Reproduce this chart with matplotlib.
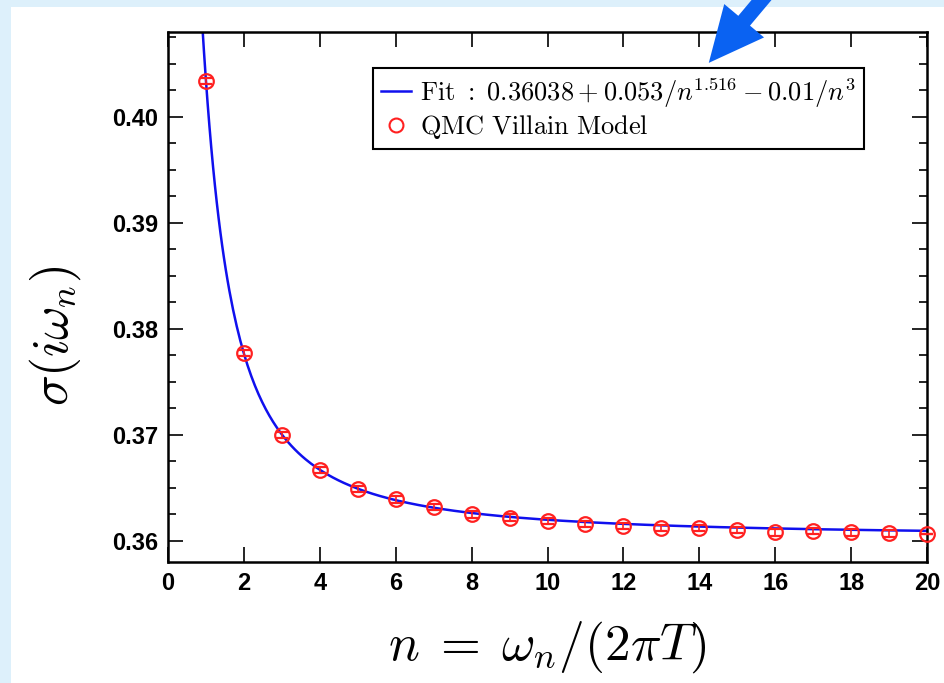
import matplotlib
matplotlib.use('Agg')
import matplotlib.pyplot as plt
from matplotlib.patches import Rectangle
from matplotlib.lines import Line2D
from matplotlib.ticker import MultipleLocator
import numpy as np

plt.rcParams['mathtext.fontset'] = 'cm'
plt.rcParams['font.family'] = ['Liberation Sans', 'DejaVu Sans']

# QMC Villain model data
n_vals = [1, 2, 3, 4, 5, 6, 7, 8, 9, 10, 11, 12, 13, 14, 15, 16, 17, 18, 19, 20]
sigma_vals = [0.4034, 0.3777, 0.3700, 0.3667, 0.3649, 0.3639, 0.3632, 0.3625,
              0.3622, 0.3619, 0.3616, 0.3614, 0.3612, 0.3612, 0.3610, 0.3608,
              0.3609, 0.3608, 0.3607, 0.3606]
sigma_err = [0.0003] * 19 + [0.0]

# fit parameters as printed in the legend: a + b/n^p - c/n^3
fit_a = 0.36038
fit_b = 0.053
fit_p = 1.516
fit_c = 0.01
n_fit = np.linspace(0.9, 20, 400)
sigma_fit = fit_a + fit_b / n_fit**fit_p - fit_c / n_fit**3

fit_label = r'$\mathrm{Fit\ :\ }0.36038 + 0.053/n^{1.516} - 0.01/n^3$'
qmc_label = r'$\mathrm{QMC\ Villain\ Model}$'

fig = plt.figure(figsize=(9.45, 6.83), dpi=100)
fig.patch.set_facecolor('#ddf0fb')
fig.patches.append(Rectangle((11 / 945, 0), 1, 676 / 683, transform=fig.transFigure,
                             facecolor='white', edgecolor='none', zorder=-10))

ax = fig.add_axes([0.1778, 0.1771, 0.8032, 0.776])
ax.plot(n_fit, sigma_fit, color='#1010ee', lw=1.8, zorder=2)
ax.errorbar(n_vals, sigma_vals, yerr=sigma_err, fmt='o', mfc='none', mec='#ff2020',
            ms=10.5, mew=1.6, ecolor='#ff2020', elinewidth=1.2, capsize=4, capthick=1.2,
            zorder=3, clip_on=False)

ax.set_xlim(0, 20)
ax.set_ylim(0.358, 0.408)
ax.xaxis.set_major_locator(MultipleLocator(2))
ax.yaxis.set_major_locator(MultipleLocator(0.01))
ax.yaxis.set_minor_locator(MultipleLocator(0.0025))
ax.yaxis.set_major_formatter(matplotlib.ticker.FormatStrFormatter('%.2f'))
ax.tick_params(which='both', direction='in', top=True, right=True, width=1.2)
ax.tick_params(which='major', length=11, labelsize=17, pad=7)
ax.tick_params(which='minor', length=6)
for lab in ax.get_xticklabels() + ax.get_yticklabels():
    lab.set_fontweight('bold')
for sp in ax.spines.values():
    sp.set_linewidth(1.8)

ax.set_xlabel(r'$n\;=\;\omega_n/(2\pi T)$', fontsize=37, labelpad=18)
ax.set_ylabel(r'$\sigma(i\omega_n)$', fontsize=37)
ax.yaxis.set_label_coords(-0.112, 0.428)

handles = [Line2D([], [], color='#1010ee', lw=1.8),
           Line2D([], [], ls='none', marker='o', mfc='none', mec='#ff2020', ms=10, mew=1.5)]
leg = ax.legend(handles, [fit_label, qmc_label], loc='upper left',
                bbox_to_anchor=(0.270, 0.932), borderaxespad=0,
                fontsize=19, frameon=True, fancybox=False, framealpha=1,
                edgecolor='black', handlelength=1.15, handletextpad=0.35,
                borderpad=0.3, labelspacing=0.12)
leg.get_frame().set_linewidth(1.5)

ax.annotate('', xy=(707, 618), xytext=(780, 705), xycoords='figure pixels',
            textcoords='figure pixels',
            arrowprops=dict(arrowstyle='simple,head_width=1.7,head_length=1.8,tail_width=0.5',
                            mutation_scale=22, color='#0a62f2', lw=0),
            annotation_clip=False)

plt.savefig('out.png', dpi=100, facecolor=fig.get_facecolor())
